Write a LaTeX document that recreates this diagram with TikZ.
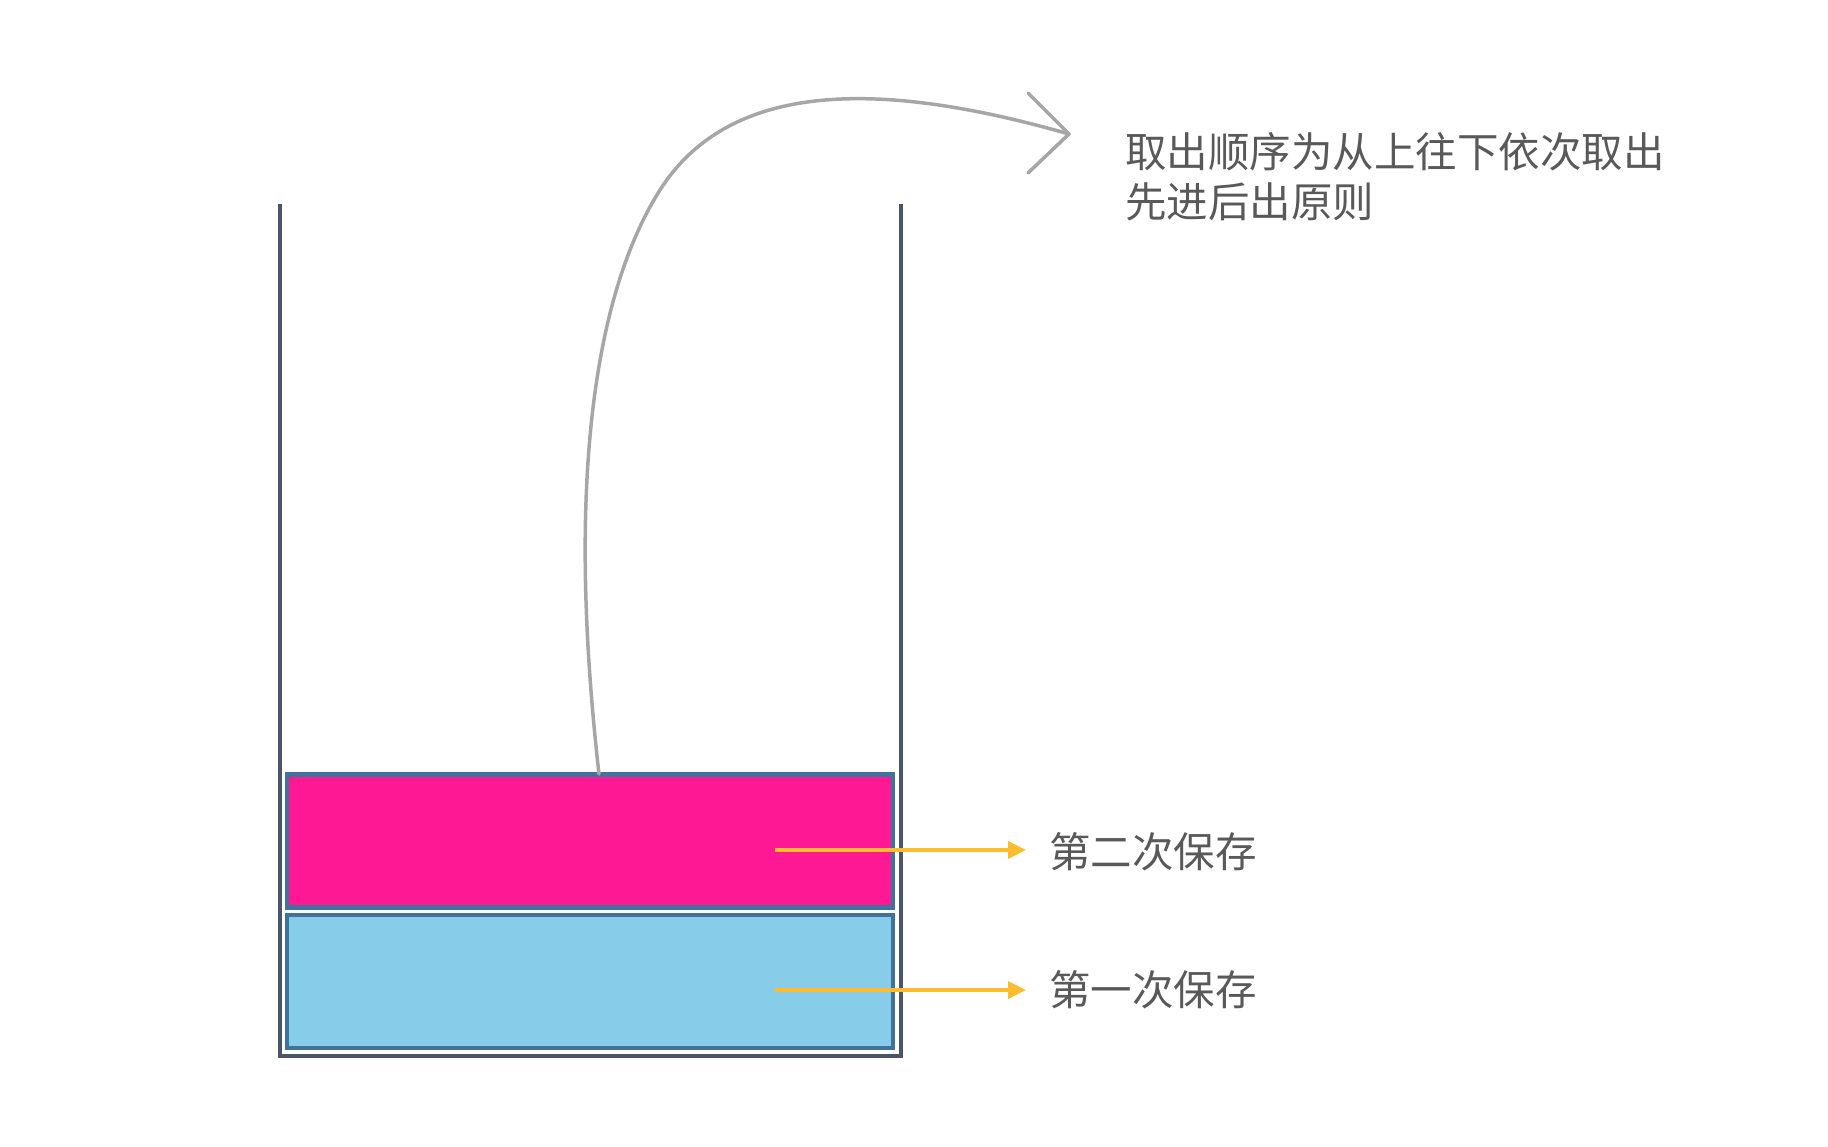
\documentclass[tikz,border=0pt]{standalone}
\usepackage{fontspec}
\newfontfamily\cjk{Noto Sans CJK SC}
\usetikzlibrary{arrows.meta}
\definecolor{boxpink}{HTML}{FE1893}
\definecolor{boxblue}{HTML}{87CDEA}
\definecolor{boxedge}{HTML}{41729B}
\definecolor{cont}{HTML}{4A5568}
\definecolor{yel}{HTML}{FBBC2D}
\definecolor{curvegray}{HTML}{A6A6A6}
\definecolor{txt}{HTML}{595959}
\tikzset{
  stackbox/.style={draw=boxedge, line width=4.5pt, minimum width=606pt, minimum height=133pt, inner sep=0pt},
  yarrow/.style={draw=yel, line width=3.5pt, -{Triangle[length=18pt,width=17pt]}},
  lbl/.style={font=\cjk\fontsize{41.5}{50}\selectfont, text=txt, inner sep=0pt},
  container/.style={draw=cont, line width=3.5pt},
  popcurve/.style={draw=curvegray, line width=3.5pt, line cap=round, line join=round}
}
\begin{document}
\begin{tikzpicture}[x=1pt, y=-1pt]
\useasboundingbox (0,0) rectangle (1828,1146);
% container
\draw[container] (280,204) -- (280,1056) -- (901,1056) -- (901,204);
% boxes
\node[stackbox, fill=boxpink] (second) at (590,841) {};
\node[stackbox, fill=boxblue] (first) at (590,981.5) {};
% labels
\node[lbl, anchor=west] (l2) at (1049,852) {第二次保存};
\node[lbl, anchor=west] (l1) at (1049,990) {第一次保存};
\coordinate (a2) at (775,850);
\coordinate (a1) at (775,990);
\draw[yarrow, shorten >=23pt] (a2) -- (a2 -| l2.west);
\draw[yarrow, shorten >=23pt] (a1) -- (a1 -| l1.west);
% curve
\coordinate (s) at (599,774);
\coordinate (m) at (660,190);
\coordinate (e) at (1069,134);
\draw[popcurve] (s) .. controls (560,430) and (611,267) .. (m)
  .. controls (730,80) and (880,80) .. (e);
\draw[popcurve] (1028,93) -- (e) -- (1028,173);
% note
\node[lbl, anchor=west, align=left] (note) at (1125,177) {取出顺序为从上往下依次取出\\先进后出原则};
\end{tikzpicture}
\end{document}
